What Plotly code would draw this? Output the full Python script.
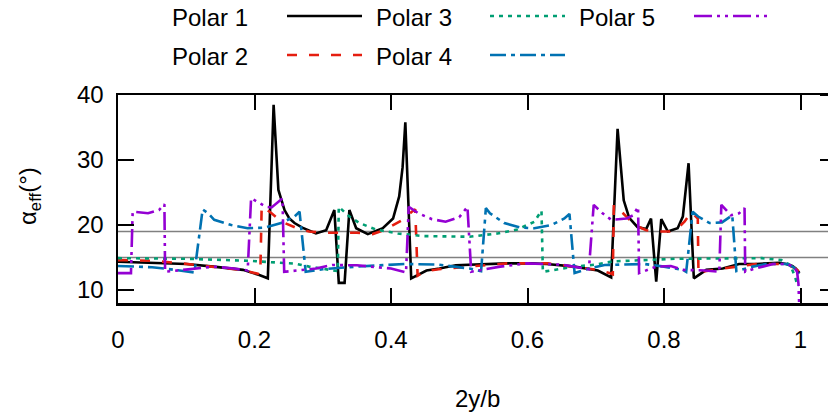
import plotly.graph_objects as go

# ---------------- data ----------------
x_ticks = [0, 0.2, 0.4, 0.6, 0.8, 1.0]
x_tick_labels = ["0", "0.2", "0.4", "0.6", "0.8", "1"]
y_ticks = [10, 20, 30, 40]
y_tick_labels = ["10", "20", "30", "40"]
ref_levels = [15, 19]

series_names = ["Polar 1", "Polar 2", "Polar 3", "Polar 4", "Polar 5"]

p1_x = [0, 0.05, 0.1, 0.14, 0.183, 0.207, 0.2195, 0.228, 0.235, 0.244, 0.251, 0.2586, 0.27, 0.29,
        0.305, 0.317, 0.3235, 0.332, 0.339, 0.349, 0.366, 0.388, 0.403, 0.412, 0.417, 0.421, 0.4296,
        0.452, 0.471, 0.495, 0.515, 0.569, 0.605, 0.628, 0.669, 0.69, 0.703, 0.7226, 0.732, 0.741,
        0.749, 0.761, 0.774, 0.781, 0.7886, 0.796, 0.8056, 0.82, 0.8276, 0.836, 0.8437, 0.862, 0.886,
        0.91, 0.935, 0.969, 0.979, 0.988, 0.993, 0.9985]
p1_y = [14.35, 14.2, 14.0, 13.6, 13.1, 12.3, 11.8, 38.5, 25.4, 22.3, 21.0, 20.3, 19.6, 18.7,
        19.2, 22.3, 11.1, 11.1, 22.3, 19.5, 18.6, 19.5, 21.0, 24.4, 28.9, 35.8, 11.8,
        13.0, 13.3, 13.8, 13.9, 14.1, 14.1, 14.0, 13.6, 13.2, 13.0, 11.95, 34.8, 23.8,
        21.1, 19.7, 19.4, 21.0, 11.3, 20.9, 19.0, 19.5, 21.3, 29.5, 11.8, 13.1, 13.3,
        14.0, 14.0, 14.2, 14.0, 13.7, 13.3, 12.6]

p2_x = [0, 0.05, 0.093, 0.14, 0.18, 0.205, 0.2085, 0.2105, 0.225, 0.24, 0.26, 0.28, 0.3, 0.35,
        0.373, 0.39, 0.403, 0.417, 0.43, 0.4355, 0.439, 0.45, 0.47, 0.515, 0.57, 0.63, 0.669,
        0.703, 0.72, 0.725, 0.7265, 0.74, 0.757, 0.774, 0.79, 0.808, 0.82, 0.83, 0.84, 0.8495,
        0.8505, 0.86, 0.886, 0.935, 0.979, 0.991, 0.9985]
p2_y = [14.6, 14.5, 14.1, 13.6, 13.1, 12.5, 12.3, 22.9, 21.8, 20.5, 19.6, 19.0, 18.8, 18.8,
        18.6, 19.2, 20.0, 20.8, 22.0, 22.4, 12.2, 12.9, 13.2, 13.6, 14.1, 14.1, 13.6,
        13.1, 12.6, 12.4, 23.1, 21.8, 20.0, 19.2, 19.0, 19.0, 19.5, 20.5, 22.0, 21.0,
        12.4, 12.9, 13.3, 14.0, 14.0, 13.4, 12.8]

p3_x = [0, 0.1, 0.19, 0.24, 0.26, 0.28, 0.3, 0.314, 0.322, 0.3235, 0.339, 0.354, 0.378, 0.41,
        0.446, 0.515, 0.556, 0.585, 0.61, 0.6205, 0.6225, 0.669, 0.7, 0.725, 0.771, 0.816, 0.943,
        0.972, 0.985, 0.992, 0.996]
p3_y = [14.9, 14.8, 14.5, 14.2, 14.05, 13.6, 13.3, 13.1, 12.9, 22.8, 21.3, 20.3, 19.3, 18.7,
        18.3, 18.2, 18.7, 19.3, 20.5, 22.2, 12.8, 13.6, 13.9, 14.4, 14.6, 14.8, 14.9,
        14.6, 13.85, 12.05, 10.5]

p4_x = [0, 0.05, 0.068, 0.09, 0.112, 0.124, 0.132, 0.141, 0.166, 0.19, 0.215, 0.239, 0.2586,
        0.266, 0.275, 0.3, 0.35, 0.42, 0.47, 0.515, 0.532, 0.539, 0.545, 0.566, 0.59, 0.61, 0.635,
        0.654, 0.6615, 0.669, 0.69, 0.713, 0.771, 0.8, 0.8276, 0.8325, 0.842, 0.85, 0.8667, 0.885,
        0.9, 0.906, 0.93, 0.95, 0.98, 0.99, 0.998]
p4_y = [13.7, 13.5, 13.3, 13.0, 12.7, 22.4, 21.8, 20.8, 20.0, 19.5, 19.6, 20.3, 21.3,
        22.05, 12.8, 13.2, 13.6, 14.0, 13.9, 13.3, 12.9, 22.6, 21.8, 20.3, 19.6, 19.5, 20.0,
        21.0, 21.7, 12.6, 13.3, 13.85, 14.0, 13.6, 13.1, 12.8, 22.05, 21.3, 20.3, 20.4,
        21.5, 12.9, 13.6, 14.0, 14.0, 13.5, 12.5]

p5_x = [0, 0.019, 0.0215, 0.044, 0.06, 0.068, 0.069, 0.1, 0.14, 0.17, 0.19, 0.195, 0.217, 0.225,
        0.232, 0.241, 0.2435, 0.29, 0.314, 0.35, 0.4, 0.422, 0.426, 0.44, 0.46, 0.48, 0.5, 0.512,
        0.5175, 0.56, 0.6, 0.65, 0.69, 0.697, 0.71, 0.7226, 0.745, 0.755, 0.762, 0.7635, 0.789,
        0.81, 0.8276, 0.86, 0.881, 0.884, 0.898, 0.91, 0.918, 0.919, 0.93, 0.96, 0.98, 0.99,
        0.995, 0.997, 0.999]
p5_y = [12.6, 12.6, 22.05, 21.8, 22.3, 23.2, 12.8, 13.2, 13.6, 13.3, 13.0, 24.1, 22.8, 22.7,
        23.3, 24.1, 12.8, 13.3, 13.85, 13.8, 13.3, 12.7, 22.8, 21.8, 20.9, 20.5, 21.2, 22.8,
        12.8, 13.6, 14.1, 13.9, 13.2, 23.1, 21.8, 20.8, 21.0, 21.5, 22.8, 12.6, 13.6,
        13.7, 13.1, 13.0, 12.8, 23.1, 21.5, 21.8, 22.6, 12.8, 13.2, 14.0, 14.0, 13.6,
        12.8, 11.0, 5.0]

# ---------------- styles ----------------
colors = ["#000000", "#e51e10", "#009e73", "#0072b2", "#9400d3"]
dashes = ["solid", "10px,12px", "4px,5px", "16px,5px,4px,5px", "18px,5px,3px,5px,3px,5px"]
xs = [p1_x, p2_x, p3_x, p4_x, p5_x]
ys = [p1_y, p2_y, p3_y, p4_y, p5_y]

W, H = 828, 414
L, R, T, B = 118, 0, 95, 111
PX_PER_X = 682.5
x_max = (W - L - R) / PX_PER_X
FONT = "Liberation Sans, Arial, Helvetica, sans-serif"

def px2paper_x(px):
    return (px - L) / (W - L - R)

def px2paper_y(py):
    return (H - B - py) / (H - T - B)

fig = go.Figure()

for lvl in ref_levels:
    fig.add_trace(go.Scatter(x=[0, x_max], y=[lvl, lvl], mode="lines",
                             line=dict(color="#808080", width=1.6),
                             showlegend=False, hoverinfo="skip"))

for name, x, y, c, d in zip(series_names, xs, ys, colors, dashes):
    fig.add_trace(go.Scatter(x=x, y=y, mode="lines", name=name,
                             line=dict(color=c, width=2.6, dash=d),
                             showlegend=False))

# custom legend (gnuplot-style: label then sample)
legend_cols_text = [170, 374, 577]
legend_cols_line = [(287, 362), (490, 565), (694, 769)]
legend_rows = [16, 55]
shapes = []
annotations = []
for i, (name, c, d) in enumerate(zip(series_names, colors, dashes)):
    col, row = i // 2, i % 2
    ypix = legend_rows[row]
    annotations.append(dict(text=name, x=px2paper_x(legend_cols_text[col]), y=px2paper_y(ypix + 1),
                            xref="paper", yref="paper", xanchor="left", yanchor="middle",
                            showarrow=False, font=dict(size=24, color="black", family=FONT)))
    x0, x1 = legend_cols_line[col]
    shapes.append(dict(type="line", xref="paper", yref="paper",
                       x0=px2paper_x(x0), x1=px2paper_x(x1),
                       y0=px2paper_y(ypix), y1=px2paper_y(ypix),
                       line=dict(color=c, width=2.6, dash=d)))

# right-side tick marks (border lies just outside the image)
for t in y_ticks:
    shapes.append(dict(type="line", xref="paper", yref="y",
                       x0=px2paper_x(820), x1=1.0, y0=t, y1=t,
                       line=dict(color="black", width=2)))

# axis titles
annotations.append(dict(text="2y/b", x=px2paper_x(477), y=px2paper_y(398),
                        xref="paper", yref="paper", xanchor="center", yanchor="middle",
                        showarrow=False, font=dict(size=24, color="black", family=FONT)))
annotations.append(dict(text="α<sub>eff</sub>(°)", x=px2paper_x(29), y=px2paper_y(196),
                        xref="paper", yref="paper", xanchor="center", yanchor="middle",
                        textangle=-90, showarrow=False,
                        font=dict(size=24, color="black", family=FONT)))

fig.update_layout(
    width=W, height=H,
    margin=dict(l=L, r=R, t=T, b=B, pad=0),
    paper_bgcolor="white", plot_bgcolor="white",
    font=dict(family=FONT, size=24, color="black"),
    showlegend=False,
    shapes=shapes, annotations=annotations,
    xaxis=dict(range=[0, x_max], tickvals=x_ticks, ticktext=x_tick_labels,
               ticks="inside", ticklen=15, tickwidth=2, tickcolor="black",
               showline=True, linewidth=2.5, linecolor="black", mirror="ticks",
               showgrid=False, zeroline=False, ticklabelstandoff=14),
    yaxis=dict(range=[8, 40], tickvals=y_ticks, ticktext=y_tick_labels,
               ticks="inside", ticklen=16, tickwidth=2, tickcolor="black",
               showline=True, linewidth=2.5, linecolor="black", mirror=False,
               showgrid=False, zeroline=False, ticklabelstandoff=7),
)

fig.write_html("out.html",
               config={"displayModeBar": False, "staticPlot": True},
               post_script="document.body.style.margin='0';document.body.style.padding='0';"
                           "document.body.style.overflow='hidden';")
